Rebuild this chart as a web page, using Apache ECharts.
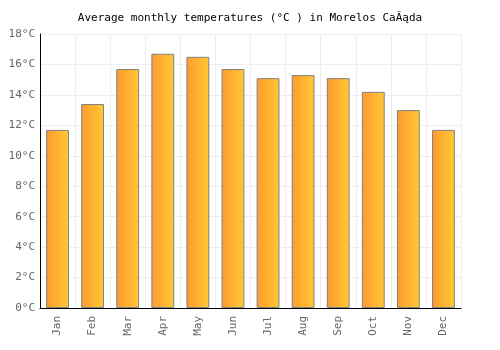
<!DOCTYPE html>
<html>
<head>
<meta charset="utf-8">
<script src="https://cdn.jsdelivr.net/npm/echarts@6/dist/echarts.min.js"></script>
<style>
html, body { margin: 0; padding: 0; background: #fff; }
#main { width: 500px; height: 350px; }
</style>
</head>
<body>
<div id="main"></div>
<script>
var months = ['Jan', 'Feb', 'Mar', 'Apr', 'May', 'Jun', 'Jul', 'Aug', 'Sep', 'Oct', 'Nov', 'Dec'];
var temps = [11.7, 13.4, 15.7, 16.7, 16.5, 15.7, 15.1, 15.3, 15.1, 14.2, 13.0, 11.7];
var yTicks = [0, 2, 4, 6, 8, 10, 12, 14, 16, 18];

var font = '"DejaVu Sans Mono", monospace';

// 基于准备好的dom，初始化echarts实例
var chart = echarts.init(document.getElementById('main'));
chart.setOption({
	animation: false,
	title: {
		text: 'Average monthly temperatures (°C ) in Morelos CaĂąda',
		left: 'center',
		top: 8,
		textStyle: {
			fontFamily: font,
			fontSize: 11,
			fontWeight: 'normal',
			color: '#000'
		}
	},
	grid: {
		left: 40,
		right: 39,
		top: 34,
		bottom: 42
	},
	xAxis: {
		type: 'category',
		data: months,
		axisLine: { lineStyle: { color: '#000', width: 1 } },
		axisTick: { show: false },
		splitLine: { show: true, lineStyle: { color: '#eeeeee' } },
		axisLabel: {
			rotate: 90,
			fontFamily: font,
			fontSize: 11,
			color: '#666',
			margin: 8
		}
	},
	yAxis: {
		type: 'value',
		min: yTicks[0],
		max: yTicks[yTicks.length - 1],
		interval: 2,
		axisLine: { show: true, lineStyle: { color: '#000', width: 1 } },
		axisTick: { show: false },
		splitLine: { lineStyle: { color: '#eeeeee' } },
		axisLabel: {
			formatter: '{value}°C',
			fontFamily: font,
			fontSize: 11,
			color: '#666',
			margin: 5
		}
	},
	series: [{
		type: 'bar',
		data: temps,
		barWidth: '65%',
		itemStyle: {
			color: new echarts.graphic.LinearGradient(0, 0, 1, 0, [
				{ offset: 0, color: '#ff9a30' },
				{ offset: 1, color: '#ffc933' }
			]),
			borderColor: '#808080',
			borderWidth: 1
		}
	}]
});
</script>
</body>
</html>
